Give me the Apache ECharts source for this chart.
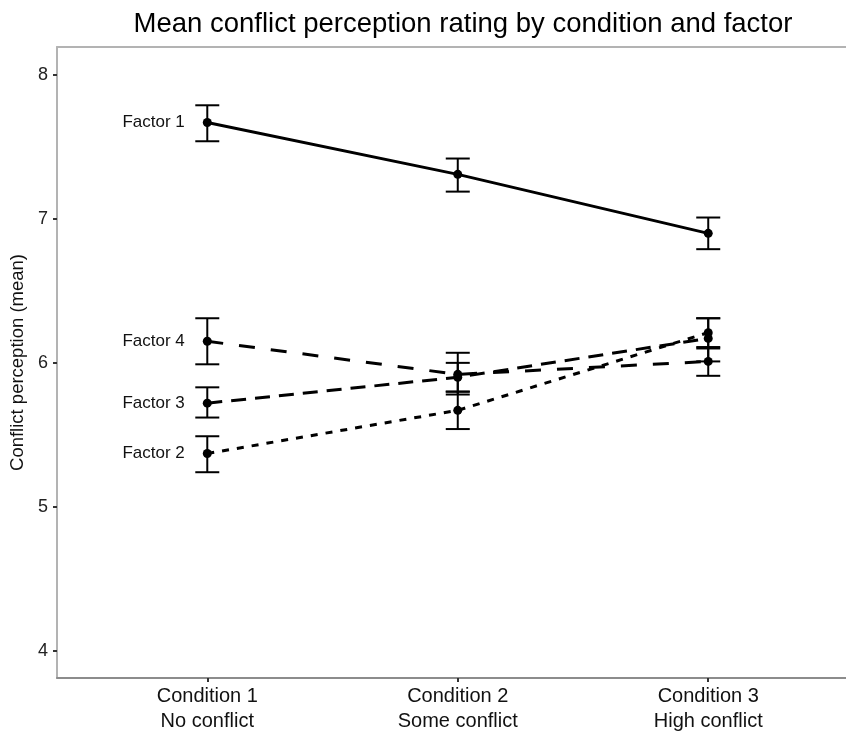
<!DOCTYPE html>
<html>
<head>
<meta charset="utf-8">
<script src="https://cdn.jsdelivr.net/npm/echarts@6/dist/echarts.min.js"></script>
<style>
html, body { margin: 0; padding: 0; background: #fff; }
#main { width: 846px; height: 736px; }
</style>
</head>
<body>
<div id="main"></div>
<script>
// categories along x (position 1, 2, 3)
var conditions = ['Condition 1', 'Condition 2', 'Condition 3'];
var conditionNotes = ['No conflict', 'Some conflict', 'High conflict'];
var yTicks = [4, 5, 6, 7, 8];

var factorNames = ['Factor 1', 'Factor 2', 'Factor 3', 'Factor 4'];
// means per condition
var factor1Mean = [7.67, 7.31, 6.90];
var factor2Mean = [5.37, 5.67, 6.21];
var factor3Mean = [5.72, 5.90, 6.17];
var factor4Mean = [6.15, 5.92, 6.01];
// error bar ends
var factor1Low = [7.54, 7.19, 6.79];
var factor1High = [7.79, 7.42, 7.01];
var factor2Low = [5.24, 5.54, 6.10];
var factor2High = [5.49, 5.80, 6.31];
var factor3Low = [5.62, 5.80, 6.01];
var factor3High = [5.83, 6.00, 6.31];
var factor4Low = [5.99, 5.78, 5.91];
var factor4High = [6.31, 6.07, 6.11];

var means = [factor1Mean, factor2Mean, factor3Mean, factor4Mean];
var lows = [factor1Low, factor2Low, factor3Low, factor4Low];
var highs = [factor1High, factor2High, factor3High, factor4High];
var dashes = ['solid', [7, 8], [15, 9], [16, 16]];

var chart = echarts.init(document.getElementById('main'));

var series = [];
factorNames.forEach(function (name, f) {
    series.push({
        name: name,
        type: 'line',
        symbol: 'circle',
        symbolSize: 9,
        z: 3,
        itemStyle: { color: '#000' },
        lineStyle: { color: '#000', width: 3, type: dashes[f] },
        data: means[f].map(function (v, i) {
            var item = { value: [i + 1, v] };
            if (i === 0) {
                item.label = {
                    show: true,
                    position: 'left',
                    distance: 18,
                    formatter: name,
                    fontSize: 17,
                    fontFamily: 'Liberation Sans',
                    color: '#111'
                };
            }
            return item;
        })
    });
    series.push({
        name: name + ' err',
        type: 'custom',
        z: 2,
        data: means[f].map(function (v, i) { return [i + 1, lows[f][i], highs[f][i]]; }),
        renderItem: function (params, api) {
            var lo = api.coord([api.value(0), api.value(1)]);
            var hi = api.coord([api.value(0), api.value(2)]);
            var w = 12;
            var st = { stroke: '#000', lineWidth: 2 };
            return {
                type: 'group',
                children: [
                    { type: 'line', shape: { x1: lo[0], y1: lo[1], x2: hi[0], y2: hi[1] }, style: st },
                    { type: 'line', shape: { x1: lo[0] - w, y1: lo[1], x2: lo[0] + w, y2: lo[1] }, style: st },
                    { type: 'line', shape: { x1: hi[0] - w, y1: hi[1], x2: hi[0] + w, y2: hi[1] }, style: st }
                ]
            };
        }
    });
});

chart.setOption({
    animation: false,
    backgroundColor: '#fff',
    title: {
        text: 'Mean conflict perception rating by condition and factor',
        left: 458,
        textAlign: 'center',
        top: 5,
        textStyle: { fontFamily: 'Liberation Sans', fontSize: 27.5, fontWeight: 'normal', color: '#000' }
    },
    grid: { left: 57, right: 0, top: 47, bottom: 58, outerBoundsMode: 'none', containLabel: false },
    xAxis: [{
        type: 'value',
        min: 0.4,
        max: 3.55,
        splitLine: { show: false },
        axisLine: { show: true, lineStyle: { color: '#8c8c8c', width: 2 } },
        axisTick: { show: true, customValues: [1, 2, 3], length: 4, lineStyle: { color: '#333', width: 2 } },
        axisLabel: {
            customValues: [1, 2, 3],
            margin: 6,
            fontFamily: 'Liberation Sans',
            fontSize: 20,
            lineHeight: 25,
            color: '#111',
            formatter: function (v) {
                var i = Math.round(v) - 1;
                return conditions[i] + '\n' + conditionNotes[i];
            }
        }
    }, {
        type: 'value',
        position: 'top',
        min: 0.4,
        max: 3.55,
        splitLine: { show: false },
        axisLine: { show: true, lineStyle: { color: '#b3b3b3', width: 2 } },
        axisTick: { show: false },
        axisLabel: { show: false }
    }],
    yAxis: {
        type: 'value',
        min: 3.81,
        max: 8.195,
        name: 'Conflict perception (mean)',
        nameLocation: 'middle',
        nameGap: 30,
        nameTextStyle: { fontFamily: 'Liberation Sans', fontSize: 18.5, color: '#111' },
        splitLine: { show: false },
        axisLine: { show: true, lineStyle: { color: '#b3b3b3', width: 2 } },
        axisTick: { show: true, customValues: yTicks, length: 4, lineStyle: { color: '#333', width: 2 } },
        axisLabel: {
            customValues: yTicks,
            margin: 9,
            fontFamily: 'Liberation Sans',
            fontSize: 18,
            color: '#222'
        }
    },
    series: series
});
</script>
</body>
</html>
